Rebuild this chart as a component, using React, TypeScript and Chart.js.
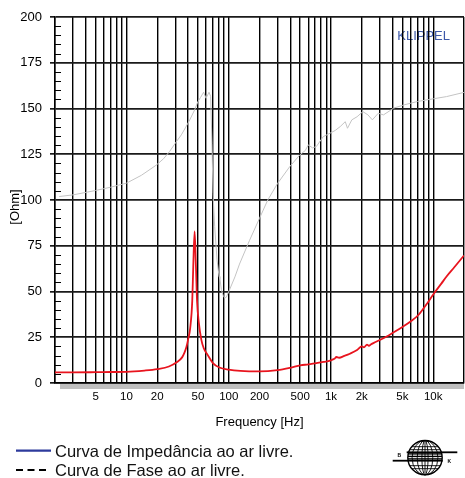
import React, { useEffect, useRef } from "react";
import { Chart, registerables } from "chart.js";

Chart.register(...registerables);

// ---- Data ----
const impFreq = [2, 3, 5, 7, 10, 15, 20, 26, 31, 35, 37, 38.5, 40, 42, 44, 45, 46.4, 47.8, 49, 51, 54, 57, 62, 70, 81, 100, 130, 200, 300, 400, 500, 600, 720, 850, 1000, 1080, 1130, 1200, 1350, 1530, 1800, 2000, 2100, 2250, 2350, 2450, 2600, 3000, 3500, 4000, 5000, 6000, 7200, 8500, 10000, 12000, 13500, 16000, 20000];
const impOhm = [5.8, 5.8, 5.9, 6.0, 6.1, 6.8, 7.6, 9.0, 11.3, 14.0, 16.7, 19.5, 23.6, 30, 45, 63.7, 82.8, 63.7, 45, 33, 23.6, 19.0, 15.5, 10.9, 8.5, 7.3, 6.6, 6.3, 7.0, 8.3, 9.6, 10.2, 10.9, 11.5, 12.4, 13.2, 14.2, 13.8, 14.8, 16.0, 18.0, 20.0, 19.5, 21.0, 20.3, 21.0, 21.8, 23.5, 25.4, 27.3, 30.6, 33.6, 37.3, 42.6, 48.4, 54.3, 58.2, 63.1, 69.7];

const phaseFreq = [2.2, 3, 5, 7, 10, 14, 19.5, 23, 26.4, 30, 34.4, 38, 41.6, 46.4, 50, 53, 56.8, 60, 64.2, 66.6, 68.6, 70.2, 72.9, 76.9, 80.4, 82, 84.8, 88, 91.3, 94.8, 102, 115, 127.5, 160, 200, 241, 300, 396, 497, 560, 600, 660, 719, 840, 980, 1100, 1230, 1380, 1450, 1600, 1800, 2050, 2300, 2540, 2900, 3260, 3700, 4100, 5200, 7000, 10000, 13500, 19600, 20000];
const phaseVal = [101.9, 102.8, 105.2, 107, 109.2, 113.5, 119, 122.5, 126.5, 131, 135.6, 139.8, 143.8, 149.2, 153.8, 156, 158.9, 155.6, 158.9, 156.5, 131, 103.7, 85.5, 67.3, 58.2, 57, 51, 48, 46.4, 46.9, 51, 58, 65, 78, 90, 100, 109, 118.3, 124.7, 127, 130.1, 128.5, 129.2, 134.6, 136.5, 138, 140.1, 142.8, 139.2, 143.8, 145.5, 148.3, 146.5, 143.8, 147.4, 146.5, 148.5, 150.2, 152, 153.8, 155.3, 156.5, 158.7, 158.8];

const xGridValues = [2, 3, 4, 5, 6, 7, 8, 9, 10, 20, 30, 40, 50, 60, 70, 80, 90, 100, 200, 300, 400, 500, 600, 700, 800, 900, 1000, 2000, 3000, 4000, 5000, 6000, 7000, 8000, 9000, 10000, 20000];
const xLabelValues = [5, 10, 20, 50, 100, 200, 500, 1000, 2000, 5000, 10000];
const xLabelTexts = ["5", "10", "20", "50", "100", "200", "500", "1k", "2k", "5k", "10k"];
const yMin = 0;
const yMax = 200;
const yStep = 25;
const yMinorStep = 5;
const yTitle = "[Ohm]";

const FONT = '"Liberation Sans", Arial, Helvetica, sans-serif';

const decorPlugin = {
  id: "decor",
  beforeDraw(chart: any) {
    const ctx = chart.ctx;
    const a = chart.chartArea;
    ctx.save();
    ctx.font = `13px ${FONT}`;
    ctx.fillStyle = "#3d58a8";
    ctx.textAlign = "right";
    ctx.textBaseline = "middle";
    ctx.fillText("KLIPPEL", a.right - 14, a.top + 19);
    ctx.restore();
  },
  afterDraw(chart: any) {
    const ctx = chart.ctx;
    const a = chart.chartArea;
    const ys = chart.scales.y;
    ctx.save();
    ctx.strokeStyle = "#000";
    ctx.lineWidth = 1;
    ctx.beginPath();
    for (let v = yMin; v <= yMax; v += yMinorStep) {
      if (v % yStep === 0) continue;
      const py = Math.round(ys.getPixelForValue(v)) + 0.5;
      ctx.moveTo(a.left, py);
      ctx.lineTo(a.left + 6, py);
    }
    ctx.stroke();
    ctx.fillStyle = "#c0c0c0";
    ctx.fillRect(a.left + 5, a.bottom + 1, a.right - a.left - 5, 5);
    // y-axis title, slightly below the axis centre as in the reference
    ctx.translate(15, (a.top + a.bottom) / 2 + 7);
    ctx.rotate(-Math.PI / 2);
    ctx.font = `13px ${FONT}`;
    ctx.fillStyle = "#000";
    ctx.textAlign = "center";
    ctx.textBaseline = "middle";
    ctx.fillText(yTitle, 0, 0);
    ctx.restore();
  },
};

function Logo() {
  const cx = 425;
  const cy = 457.7;
  const r = 17.2;
  return (
    <svg width={465} height={478} style={{ position: "absolute", left: 0, top: 0, pointerEvents: "none" }}>
      <defs>
        <clipPath id="globeClip">
          <circle cx={cx} cy={cy} r={r} />
        </clipPath>
      </defs>
      <g fill="none" stroke="#000" strokeWidth={0.9}>
        <circle cx={cx} cy={cy} r={r} strokeWidth={1.4} />
        <ellipse cx={cx} cy={cy} rx={r * 0.75} ry={r} />
        <ellipse cx={cx} cy={cy} rx={r * 0.45} ry={r} />
        <ellipse cx={cx} cy={cy} rx={r * 0.18} ry={r} />
        <line x1={cx} y1={cy - r} x2={cx} y2={cy + r} />
        <g clipPath="url(#globeClip)">
          <line x1={cx - r} y1={cy - 11} x2={cx + r} y2={cy - 11} />
          <line x1={cx - r} y1={cy - 8} x2={cx + r} y2={cy - 8} />
          <line x1={cx - r} y1={cy + 8} x2={cx + r} y2={cy + 8} />
          <line x1={cx - r} y1={cy + 11} x2={cx + r} y2={cy + 11} />
          <rect x={cx - r} y={cy - 4.5} width={2 * r} height={1.4} fill="#000" stroke="none" />
          <rect x={cx - r} y={cy - 2} width={2 * r} height={1.4} fill="#000" stroke="none" />
          <rect x={cx - r} y={cy + 0.5} width={2 * r} height={1.4} fill="#000" stroke="none" />
        </g>
      </g>
      <rect x={406.7} y={451.4} width={50.6} height={1.8} fill="#000" />
      <rect x={392.7} y={459.8} width={50} height={1.8} fill="#000" />
      <text x={397.5} y={456.5} fontSize={5} fontWeight="bold" fontFamily={FONT} fill="#000">B</text>
      <text x={447.5} y={463} fontSize={5} fontWeight="bold" fontFamily={FONT} fill="#000">K</text>
    </svg>
  );
}

export default function App() {
  const canvasRef = useRef<HTMLCanvasElement | null>(null);

  useEffect(() => {
    document.body.style.margin = "0";
    const canvas = canvasRef.current;
    if (!canvas) return;
    const chart = new Chart(canvas, {
      type: "line",
      data: {
        datasets: [
          {
            label: "Curva de Impedância ao ar livre.",
            data: impFreq.map((f, i) => ({ x: f, y: impOhm[i] })),
            borderColor: "#e8141e",
            borderWidth: 1.8,
            pointRadius: 0,
            cubicInterpolationMode: "monotone",
            fill: false,
            order: 0,
          },
          {
            label: "Curva de Fase ao ar livre.",
            data: phaseFreq.map((f, i) => ({ x: f, y: phaseVal[i] })),
            borderColor: "#c4c4c4",
            borderWidth: 1,
            pointRadius: 0,
            tension: 0,
            fill: false,
            order: 1,
          },
        ],
      },
      options: {
        responsive: false,
        animation: false,
        devicePixelRatio: 1,
        events: [],
        layout: { padding: { left: 0, right: 1, top: 17, bottom: 48 } },
        plugins: {
          legend: { display: false },
          tooltip: { enabled: false },
        },
        scales: {
          x: {
            type: "logarithmic",
            min: 2,
            max: 20000,
            afterBuildTicks: (scale: any) => {
              scale.ticks = xGridValues.map((v) => ({ value: v }));
            },
            afterFit: (scale: any) => {
              scale.height = 47;
              scale.paddingLeft = 0;
              scale.paddingRight = 0;
            },
            grid: {
              color: "#000",
              lineWidth: 1.4,
              drawTicks: false,
            },
            border: { display: true, color: "#000", width: 1.5 },
            ticks: {
              autoSkip: false,
              maxRotation: 0,
              minRotation: 0,
              padding: 7,
              color: "#000",
              font: { family: FONT, size: 11.5 },
              callback: (value: any) => {
                const idx = xLabelValues.indexOf(Number(value));
                return idx >= 0 ? xLabelTexts[idx] : "";
              },
            },
            title: {
              display: true,
              text: "Frequency [Hz]",
              color: "#000",
              font: { family: FONT, size: 13 },
              padding: { top: 0, bottom: 0 },
            },
          },
          y: {
            type: "linear",
            min: yMin,
            max: yMax,
            afterFit: (scale: any) => {
              scale.width = 55;
              scale.paddingTop = 0;
              scale.paddingBottom = 0;
            },
            grid: {
              color: "#1a1a1a",
              lineWidth: 1.7,
              drawTicks: true,
              tickLength: 5,
            },
            border: { display: true, color: "#000", width: 1.5 },
            ticks: {
              stepSize: yStep,
              padding: 8,
              color: "#000",
              font: { family: FONT, size: 13 },
            },
            title: { display: false },
          },
        },
      },
      plugins: [decorPlugin],
    } as any);
    return () => chart.destroy();
  }, []);

  const textStyle: React.CSSProperties = {
    position: "absolute",
    left: 55,
    fontFamily: FONT,
    fontSize: 16.5,
    lineHeight: "20px",
    color: "#111",
    whiteSpace: "nowrap",
  };

  return (
    <div style={{ position: "relative", width: 465, height: 478, overflow: "hidden", background: "#fff" }}>
      <canvas ref={canvasRef} width={465} height={478} style={{ display: "block", position: "absolute", left: 0, top: 0 }} />
      <svg width={465} height={478} style={{ position: "absolute", left: 0, top: 0, pointerEvents: "none" }}>
        <line x1={16} y1={450.7} x2={51} y2={450.7} stroke="#2d3a9c" strokeWidth={2.2} />
        <line x1={16} y1={470} x2={49} y2={470} stroke="#000" strokeWidth={2.2} strokeDasharray="7 4.5" />
      </svg>
      <div style={{ ...textStyle, top: 440.7 }}>Curva de Impedância ao ar livre.</div>
      <div style={{ ...textStyle, top: 460 }}>Curva de Fase ao ar livre.</div>
      <Logo />
    </div>
  );
}
